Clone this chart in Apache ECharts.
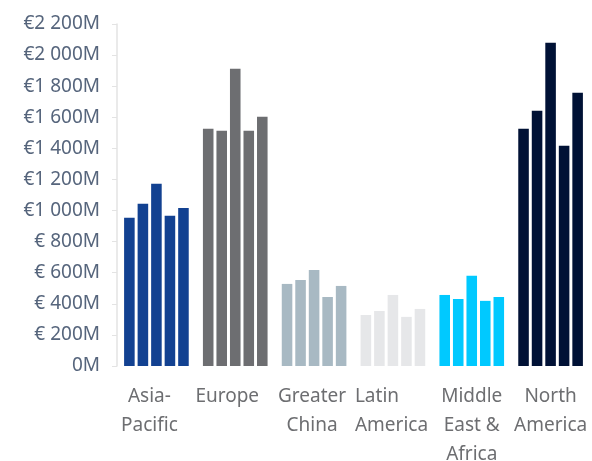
<!DOCTYPE html>
<html>
<head>
<meta charset="utf-8">
<script src="https://cdn.jsdelivr.net/npm/echarts@6/dist/echarts.min.js"></script>
<style>
  html, body { margin: 0; padding: 0; background: #fff; }
  #main { width: 592px; height: 461px; }
</style>
</head>
<body>
<div id="main"></div>
<script>
const regions = ["Asia-\nPacific", "Europe", "Greater\nChina", "Latin\nAmerica", "Middle\nEast &\nAfrica", "North\nAmerica"];
const regionColors = ["#124191", "#6d6e71", "#a8b9c3", "#e6e7e9", "#00c9ff", "#001135"];

// one array per bar position inside each region group (values in €M)
const period1 = [953, 1526, 528, 328, 457, 1526];
const period2 = [1043, 1513, 554, 354, 431, 1642];
const period3 = [1172, 1912, 618, 457, 580, 2080];
const period4 = [966, 1513, 444, 316, 419, 1417];
const period5 = [1017, 1603, 515, 367, 444, 1758];
const periods = [period1, period2, period3, period4, period5];

const chart = echarts.init(document.getElementById("main"));

const fmtEuro = (v) => {
    if (v === 0) return "0M";
    const th = Math.floor(v / 1000);
    const rest = String(v % 1000).padStart(3, "0");
    return th > 0 ? "€" + th + " " + rest + "M" : "€ " + v + "M";
};

// labels in the original sit a little left of the bar groups for some regions
const labelPad = [[0, 14, 0, 0], [0, 16, 0, 0], [0, 4, 0, 0], 0, 0, 0];
const categoryData = regions.map((name, i) => ({
    value: name,
    textStyle: { padding: labelPad[i] },
}));

const labelFont = { fontSize: 19, lineHeight: 29, color: "#6d6e71", fontFamily: "Noto Sans" };

const series = periods.map((vals) => ({
    type: "bar",
    data: vals,
    barGap: "28%",
    barCategoryGap: "18%",
    itemStyle: {
        color: (p) => regionColors[p.dataIndex],
    },
}));

chart.setOption({
    animation: false,
    grid: {
        left: 117, right: 2, top: 24, bottom: 95,
        containLabel: false,
        outerBoundsMode: "none",
    },
    xAxis: {
        type: "category",
        data: categoryData,
        axisLine: { show: false },
        axisTick: { show: false },
        axisLabel: {
            interval: 0,
            margin: 16,
            ...labelFont,
            formatter: (v) => {
                // "Latin" is left aligned over "America" in the original
                if (v === "Latin\nAmerica") return "{l|Latin}\n{l|America}";
                return v;
            },
            rich: {
                l: { ...labelFont, width: 76, align: "left" },
            },
        },
    },
    yAxis: {
        type: "value",
        min: 0,
        max: 2200,
        interval: 200,
        splitLine: { show: false },
        axisLine: { show: true, lineStyle: { color: "#e3e3e3", width: 1.5 } },
        axisTick: { show: true, length: 5, lineStyle: { color: "#e3e3e3" } },
        axisLabel: {
            margin: 17,
            color: "#56657c",
            fontSize: 19,
            fontFamily: "Noto Sans",
            formatter: fmtEuro,
        },
    },
    series: series,
});
</script>
</body>
</html>
